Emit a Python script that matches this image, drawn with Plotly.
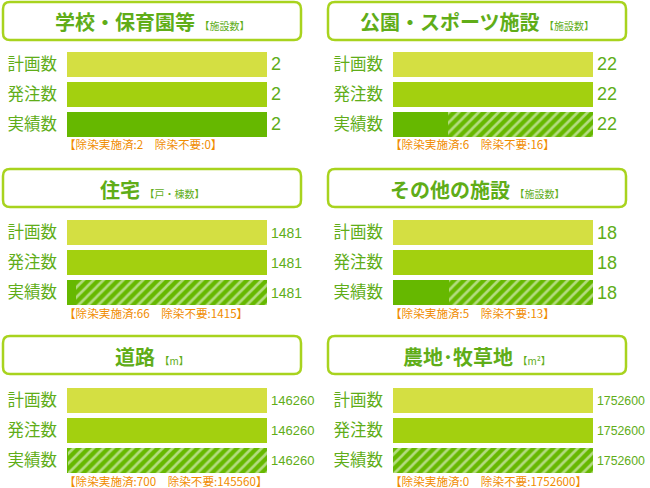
import plotly.graph_objects as go

W, H = 650, 488

titles = ["学校・保育園等", "公園・スポーツ施設", "住宅", "その他の施設", "道路", "農地･牧草地"]
units = ["【施設数】", "【施設数】", "【戸・棟数】", "【施設数】", "【m】", "【m²】"]
row_labels = ["計画数", "発注数", "実績数"]
plan = [2, 22, 1481, 18, 146260, 1752600]
ordered = [2, 22, 1481, 18, 146260, 1752600]
actual = [2, 22, 1481, 18, 146260, 1752600]
done = [2, 6, 66, 5, 700, 0]
not_needed = [0, 16, 1415, 13, 145560, 1752600]

C_PLAN = "#d4df42"
C_ORDER = "#a3d00f"
C_DONE = "#66b800"
C_BORDER = "#a8d31e"
C_TEXT = "#60ad18"
C_ORANGE = "#f08c00"
CJK = "Noto Sans CJK JP"

fig = go.Figure()
layout = dict(width=W, height=H, margin=dict(l=0, r=0, t=0, b=0),
              paper_bgcolor="white", plot_bgcolor="rgba(0,0,0,0)",
              barmode="stack", showlegend=False, shapes=[], annotations=[])

def px_x(p):
    return p / W

def px_y(p):
    return 1 - p / H

def rrect(x0, y0, x1, y1, r):
    X = lambda v: f"{px_x(v):.5f}"
    Y = lambda v: f"{px_y(v):.5f}"
    return (f"M{X(x0+r)},{Y(y0)} L{X(x1-r)},{Y(y0)} Q{X(x1)},{Y(y0)} {X(x1)},{Y(y0+r)} "
            f"L{X(x1)},{Y(y1-r)} Q{X(x1)},{Y(y1)} {X(x1-r)},{Y(y1)} "
            f"L{X(x0+r)},{Y(y1)} Q{X(x0)},{Y(y1)} {X(x0)},{Y(y1-r)} "
            f"L{X(x0)},{Y(y0+r)} Q{X(x0)},{Y(y0)} {X(x0+r)},{Y(y0)} Z")

for i in range(6):
    col = i % 2
    row = i // 2
    n = i + 1
    xa = "x" if n == 1 else f"x{n}"
    ya = "y" if n == 1 else f"y{n}"
    bar_left = 67 if col == 0 else 393
    bar_top = 52 + 168 * row
    box_top = 1 + 167 * row
    box_left = 2 if col == 0 else 327

    layout["xaxis" if n == 1 else f"xaxis{n}"] = dict(
        domain=[px_x(bar_left), px_x(bar_left + 200)], range=[0, plan[i]],
        anchor=ya, visible=False, fixedrange=True)
    layout["yaxis" if n == 1 else f"yaxis{n}"] = dict(
        domain=[px_y(bar_top + 87.5), px_y(bar_top - 2.5)], range=[2.5, -0.5],
        anchor=xa, tickmode="array", tickvals=[0, 1, 2], ticktext=row_labels,
        tickfont=dict(family=CJK, size=16.5, color=C_TEXT), showgrid=False,
        zeroline=False, showline=False, ticks="", ticklabelstandoff=9, fixedrange=True)

    bw = 25 / 30
    fig.add_trace(go.Bar(x=[plan[i]], y=[0], orientation="h", width=bw,
                         marker=dict(color=C_PLAN, line=dict(width=0)),
                         xaxis=xa, yaxis=ya, hoverinfo="skip"))
    fig.add_trace(go.Bar(x=[ordered[i]], y=[1], orientation="h", width=bw,
                         marker=dict(color=C_ORDER, line=dict(width=0)),
                         xaxis=xa, yaxis=ya, hoverinfo="skip"))
    fig.add_trace(go.Bar(x=[done[i]], y=[2], orientation="h", width=bw,
                         marker=dict(color=C_DONE, line=dict(width=0)),
                         xaxis=xa, yaxis=ya, hoverinfo="skip"))
    fig.add_trace(go.Bar(x=[not_needed[i]], y=[2], orientation="h", width=bw,
                         marker=dict(color=C_DONE, line=dict(width=0),
                                     pattern=dict(shape="/", bgcolor=C_DONE, fgcolor="white",
                                                  size=7, solidity=0.38, fillmode="overlay")),
                         xaxis=xa, yaxis=ya, hoverinfo="skip"))

    vals = [plan[i], ordered[i], actual[i]]
    for k, v in enumerate(vals):
        s = str(v)
        if len(s) <= 2:
            size = 18
        elif len(s) <= 4:
            size = 14
        elif len(s) <= 6:
            size = 13
        else:
            size = 12.3
        layout["annotations"].append(dict(
            x=v, y=k, xref=xa, yref=ya, text=s, showarrow=False,
            xanchor="left", yanchor="middle", xshift=2,
            font=dict(family="Liberation Sans, Arial, sans-serif", size=size, color=C_TEXT)))

    layout["annotations"].append(dict(
        x=0, y=2.5, xref=xa, yref=ya,
        text=f"【除染実施済:{done[i]}　除染不要:{not_needed[i]}】",
        showarrow=False, xanchor="left", yanchor="top", xshift=-5, yshift=5,
        font=dict(family=CJK, size=11.6, color=C_ORANGE)))

    layout["shapes"].append(dict(
        type="path", xref="paper", yref="paper",
        path=rrect(box_left + 1, box_top + 1, box_left + 299, box_top + 39, 7),
        line=dict(color=C_BORDER, width=2.5), fillcolor="white"))
    layout["annotations"].append(dict(
        x=px_x(box_left + 150), y=px_y(box_top + 21), xref="paper", yref="paper",
        text=f"<b>{titles[i]}</b><span style='font-size:10px'>  {units[i]}</span>",
        showarrow=False, xanchor="center", yanchor="middle",
        font=dict(family=CJK, size=20, color=C_TEXT)))

fig.update_layout(**layout)
fig.write_html("out.html", config={"displayModeBar": False, "staticPlot": True},
               post_script="document.body.style.margin='0';document.body.style.overflow='hidden';")
